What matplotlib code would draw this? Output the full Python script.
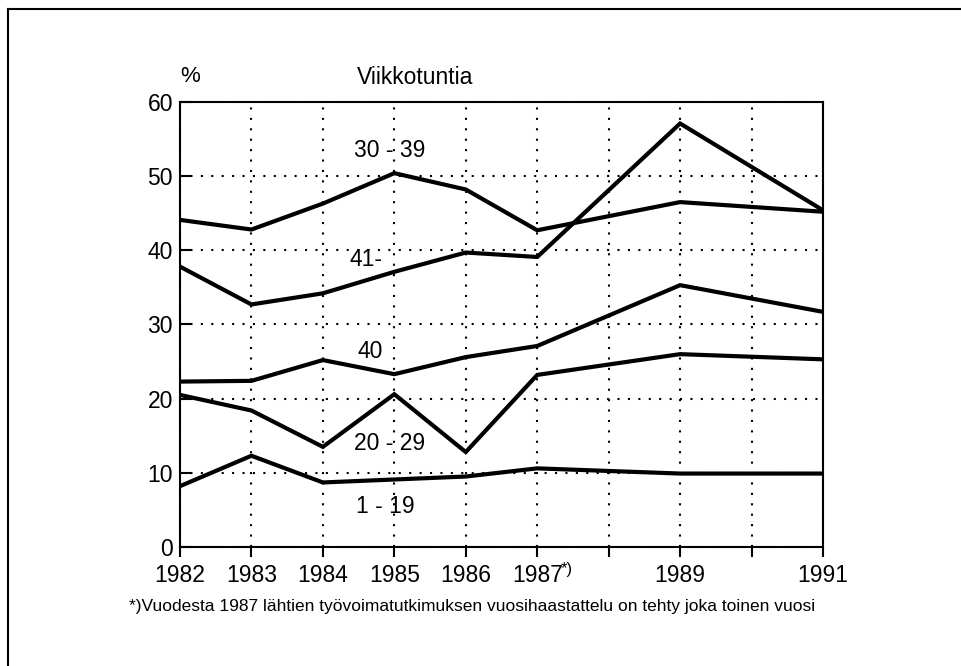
import matplotlib
matplotlib.use("Agg")
import matplotlib.pyplot as plt
from matplotlib.lines import Line2D

plt.rcParams['font.family'] = ['Liberation Sans', 'DejaVu Sans']

years = [1982, 1983, 1984, 1985, 1986, 1987, 1989, 1991]
h30_39 = [44.1, 42.8, 46.3, 50.4, 48.2, 42.7, 46.5, 45.2]
h41 = [37.8, 32.7, 34.2, 37.1, 39.7, 39.1, 57.1, 45.4]
h40 = [22.3, 22.4, 25.2, 23.3, 25.6, 27.1, 35.3, 31.7]
h20_29 = [20.5, 18.4, 13.5, 20.6, 12.8, 23.2, 26.0, 25.3]
h1_19 = [8.2, 12.3, 8.7, 9.1, 9.5, 10.6, 9.9, 9.9]

series = [h30_39, h41, h40, h20_29, h1_19]
labels = ['30 - 39', '41-', '40', '20 - 29', '1 - 19']
label_pos = [(1984.94, 53.5), (1984.6, 38.7), (1984.66, 26.3), (1984.94, 13.9), (1984.87, 5.4)]

tick_years = list(range(1982, 1992))
tick_labels = ['1982', '1983', '1984', '1985', '1986', '1987', '', '1989', '', '1991']

fig = plt.figure(figsize=(9.62, 6.66), dpi=100)
ax = fig.add_axes([0.1871, 0.1787, 0.6684, 0.6682])

for y in series:
    ax.plot(years, y, color='black', lw=3, solid_joinstyle='miter', zorder=3)

for lab, (lx, ly) in zip(labels, label_pos):
    ax.text(lx, ly, lab, ha='center', va='center', fontsize=16.5, zorder=4)

ax.set_xlim(1982, 1991)
ax.set_ylim(0, 60)
ax.set_xticks(tick_years)
ax.set_xticklabels(tick_labels, fontsize=16.5)
ax.set_yticks(range(0, 61, 10))
ax.tick_params(axis='y', labelsize=16.5, direction='in', length=8, width=1.5, pad=5)
ax.tick_params(axis='x', direction='out', length=7, width=1.5, pad=5)
ax.grid(True, color='black', lw=1.5, linestyle=(0, (1, 4)), zorder=1)
for s in ax.spines.values():
    s.set_linewidth(1.5)

ax.annotate('*)', xy=(1987, 0), xycoords=('data', 'axes fraction'),
            xytext=(17, -11), textcoords='offset points', fontsize=12, va='top')

fig.text(190 / 962, 1 - 77 / 666, '%', fontsize=16, ha='center', va='center')
fig.text(415 / 962, 1 - 77 / 666, 'Viikkotuntia', fontsize=16.5, ha='center', va='center')
fig.text(472 / 962, 1 - 607 / 666,
         '*)Vuodesta 1987 lähtien työvoimatutkimuksen vuosihaastattelu on tehty joka toinen vuosi',
         fontsize=12.5, ha='center', va='center')

# scanned page frame (top and left edges)
fig.add_artist(Line2D([8 / 962, 1], [1 - 9 / 666, 1 - 9 / 666], color='black', lw=1.5))
fig.add_artist(Line2D([8 / 962, 8 / 962], [0, 1 - 9 / 666], color='black', lw=1.5))

fig.savefig('out.png', dpi=100, facecolor='white')
